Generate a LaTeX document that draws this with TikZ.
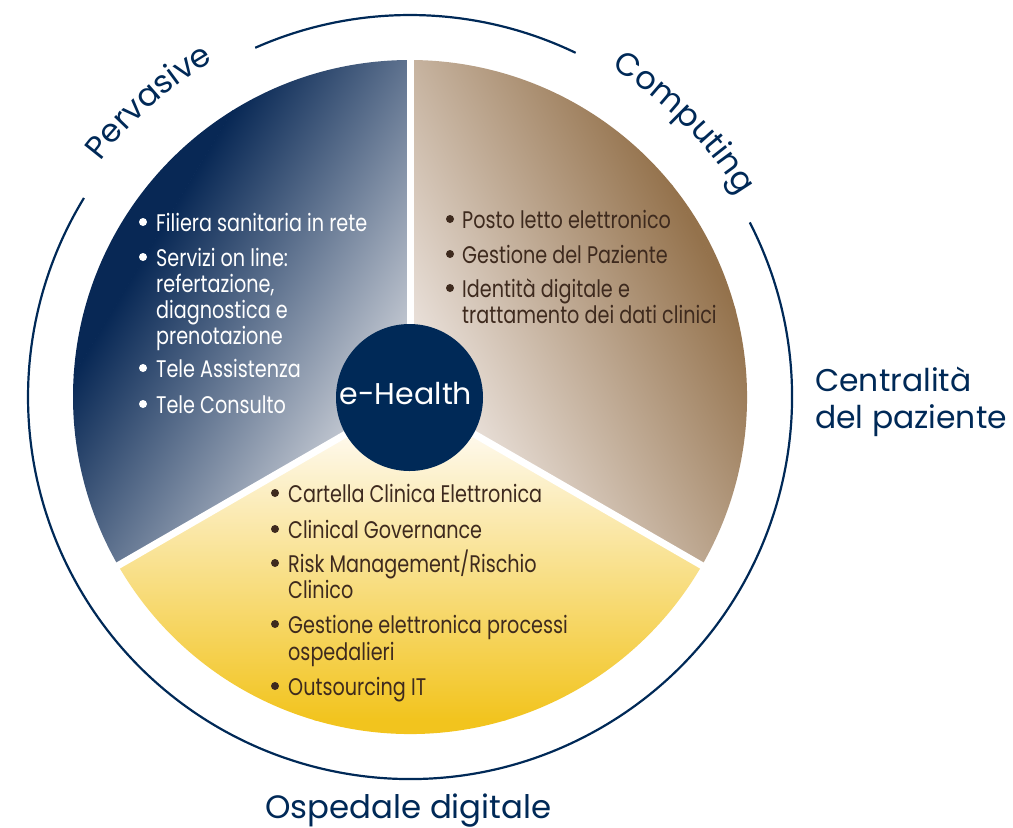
\documentclass[tikz,border=0pt]{standalone}
\usepackage{fontspec}
\usetikzlibrary{decorations.text,calc}
\newfontfamily\labfont{Poppins}
\newfontfamily\bulfont[FakeStretch=0.8]{Poppins}
\newcommand\labsize{\labfont\fontsize{32}{32}\selectfont}
\definecolor{navy}{RGB}{0,41,87}
\definecolor{bluedark}{RGB}{8,40,85}
\definecolor{bluemid}{RGB}{128,143,166}
\definecolor{bluelight}{RGB}{218,220,225}
\definecolor{brdark}{RGB}{148,114,76}
\definecolor{brmid}{RGB}{205,184,164}
\definecolor{brlight}{RGB}{243,237,234}
\definecolor{ylight}{RGB}{254,248,232}
\definecolor{ymid}{RGB}{248,226,140}
\definecolor{ydark}{RGB}{242,196,30}
\definecolor{txtbrown}{RGB}{62,42,30}
\begin{document}
\begin{tikzpicture}[x=1pt,y=1pt,
  bul/.style={anchor=base west, inner sep=0pt, font=\bulfont\fontsize{24}{24}\selectfont},
  bulw/.style={bul, text=white},
  bulb/.style={bul, text=txtbrown},
  lab/.style={font=\labfont\fontsize{31.4}{32}\selectfont, text=navy, inner sep=0pt, anchor=base west},
  ring/.style={draw=navy, line width=2.2pt},
  gapline/.style={draw=white, line width=7pt},
  curvetext/.style={decorate, decoration={text along path, text={|\labsize|#1}, text align=center, text color=navy}}]
\useasboundingbox (0,0) rectangle (1013,-828);
\coordinate (C) at (410,-397);

% blue sector
\begin{scope}
\clip (C) -- ([shift={(90:337)}]C) arc[start angle=90,end angle=210,radius=337pt] -- cycle;
\begin{scope}[transform canvas={shift={(410,-397)}, rotate=59}]
\fill[bluelight] (-450,-450) rectangle (450,0.5);
\shade[bottom color=bluelight, middle color=bluemid, top color=bluedark] (-450,0) rectangle (450,300);
\fill[bluedark] (-450,299.5) rectangle (450,450);
\end{scope}
\end{scope}

% brown sector
\begin{scope}
\clip (C) -- ([shift={(-30:337)}]C) arc[start angle=-30,end angle=90,radius=337pt] -- cycle;
\begin{scope}[transform canvas={shift={(410,-397)}, rotate=-63}]
\fill[brlight] (-450,-450) rectangle (450,0.5);
\shade[bottom color=brlight, middle color=brmid, top color=brdark] (-450,0) rectangle (450,330);
\fill[brdark] (-450,329.5) rectangle (450,450);
\end{scope}
\end{scope}

% yellow sector
\begin{scope}
\clip (C) -- ([shift={(210:337)}]C) arc[start angle=210,end angle=330,radius=337pt] -- cycle;
\fill[ylight] (0,-380) rectangle (1013,-440.5);
\shade[top color=ylight, middle color=ymid, bottom color=ydark] (0,-440) rectangle (1013,-720);
\fill[ydark] (0,-719.5) rectangle (1013,-760);
\end{scope}

% white gaps
\coordinate (g1) at ([shift={(90:345)}]C);
\coordinate (g2) at ([shift={(210:345)}]C);
\coordinate (g3) at ([shift={(330:345)}]C);
\draw[gapline] (C) -- (g1);
\draw[gapline] (C) -- (g2);
\draw[gapline] (C) -- (g3);

% outer ring
\draw[ring] ([shift={(113.9:382)}]C) arc[start angle=113.9, end angle=64.3, radius=382pt];
\draw[ring] ([shift={(27.2:382)}]C) arc[start angle=27.2, end angle=-211.4, radius=382pt];

% curved labels
\path[curvetext=Pervasive] ([shift={(152:389)}]C) arc[start angle=152, end angle=111, radius=389pt];
\path[curvetext=Computing] ([shift={(66:386)}]C) arc[start angle=66, end angle=24, radius=386pt];

% centre
\node[circle, fill=navy, minimum size=147pt, inner sep=0pt] (eh) at (409.5,-397.5) {};
\node[anchor=base, inner sep=0pt, text=white, font=\labfont\fontsize{30}{30}\selectfont] (ehtext) at (406,-404) {e-Health};

% side labels
\node[lab] (cent1) at (815,-391) {Centralità};
\node[lab] (cent2) at (815,-428) {del paziente};
\node[lab, font=\labfont\fontsize{32.4}{33}\selectfont] (osp) at (265,-818) {Ospedale digitale};

% blue items
\node[bulw] (b1) at (156,-231) {Filiera sanitaria in rete};
\node[bulw] (b2) at (156,-266) {Servizi on line:};
\node[bulw] (b2a) at (156,-292) {refertazione,};
\node[bulw] (b2b) at (156,-318) {diagnostica e};
\node[bulw] (b2c) at (156,-344) {prenotazione};
\node[bulw] (b3) at (156,-377) {Tele Assistenza};
\node[bulw] (b4) at (156,-413) {Tele Consulto};
\foreach \n in {b1,b2,b3,b4}
  \fill[white] ([shift={(-13,9)}]\n.base west) circle (4);

% brown items
\node[bulb] (r1) at (462,-228) {Posto letto elettronico};
\node[bulb] (r2) at (462,-263) {Gestione del Paziente};
\node[bulb] (r3) at (462,-297) {Identità digitale e};
\node[bulb] (r3a) at (462,-323) {trattamento dei dati clinici};
\foreach \n in {r1,r2,r3}
  \fill[txtbrown] ([shift={(-12,9)}]\n.base west) circle (4);

% yellow items
\node[bulb] (y1) at (288,-502) {Cartella Clinica Elettronica};
\node[bulb] (y2) at (288,-538) {Clinical Governance};
\node[bulb] (y3) at (288,-572) {Risk Management/Rischio};
\node[bulb] (y3a) at (288,-598) {Clinico};
\node[bulb] (y4) at (288,-633) {Gestione elettronica processi};
\node[bulb] (y4a) at (288,-660) {ospedalieri};
\node[bulb] (y5) at (288,-695) {Outsourcing IT};
\foreach \n in {y1,y2,y3,y4,y5}
  \fill[txtbrown] ([shift={(-13,9)}]\n.base west) circle (4);
\end{tikzpicture}
\end{document}
